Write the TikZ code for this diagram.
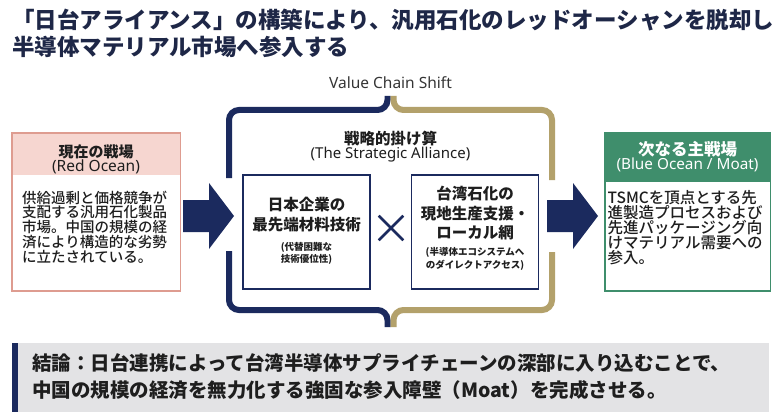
\documentclass[tikz,border=0pt]{standalone}
\usepackage{fontspec}
\setmainfont{Noto Sans CJK JP}
\newfontfamily\jpmed{Noto Sans CJK JP Medium}
\newfontfamily\latin{Noto Sans}
\usetikzlibrary{positioning,shapes.misc}
\definecolor{chainnavy}{HTML}{1B2A5E}
\definecolor{titlenavy}{HTML}{1E2747}
\definecolor{gold}{HTML}{B3A16B}
\definecolor{redfill}{HTML}{F6D6D0}
\definecolor{redline}{HTML}{DE9C90}
\definecolor{moatgreen}{HTML}{3F8E6C}
\definecolor{barfill}{HTML}{E3E3E5}
\definecolor{ink}{HTML}{1E1E1E}
\newcommand{\fsz}[2]{\fontsize{#1}{#2}\selectfont}

\begin{document}
\begin{tikzpicture}[x=1pt, y=-1pt,
  panel/.style={inner sep=0pt, anchor=north west},
  techbox/.style={draw=chainnavy, line width=1.4pt, fill=white,
    minimum width=127pt, minimum height=114pt, inner sep=0pt},
  bracket/.style={line width=6pt, rounded corners=10pt},
  bodytext/.style={anchor=north west, inner sep=0pt, align=left, text=ink},
  label/.style={inner sep=0pt, align=center, text=ink}]
\fill[white] (0,0) rectangle (780,420);
\useasboundingbox (0,0) rectangle (780,420);

\node[bodytext, text=titlenavy, font=\bfseries\fsz{22.5}{27}] (title) at (12,8.8)
  {「日台アライアンス」の構築により、汎用石化のレッドオーシャンを脱却し\\
   半導体マテリアル市場へ参入する};

% left card
\node[panel, fill=redfill, minimum width=168pt, minimum height=42pt] (redhead) at (12,133) {};
\node[panel, fill=white, minimum width=168pt, minimum height=115pt, below=0pt of redhead] (redbody) {};
\draw[redline, line width=1.5pt] (redhead.north west) rectangle (redbody.south east);
\node[label] (redtitle) at (96,159)
  {{\bfseries\fsz{15}{18}現在の戦場}\\{\latin\fsz{15.5}{18}(Red Ocean)}};
\node[bodytext, font=\jpmed\fsz{14.5}{14.7}] (redtext) at (22,190.7)
  {供給過剰と価格競争が\\支配する汎用石化製品\\市場。中国の規模の経\\済により構造的な劣勢\\に立たされている。};

% right card
\node[panel, fill=moatgreen, minimum width=165pt, minimum height=49pt] (greenhead) at (605,133) {};
\node[panel, fill=white, minimum width=165pt, minimum height=108pt, below=0pt of greenhead] (greenbody) {};
\draw[moatgreen, line width=1.5pt] (greenhead.north west) rectangle (greenbody.south east);
\node[label, text=white] (greentitle) at (687.5,156.5)
  {{\bfseries\fsz{16.5}{17}次なる主戦場}\\{\latin\fsz{15.3}{17}(Blue Ocean / Moat)}};
\node[bodytext, font=\jpmed\fsz{15.5}{15}] (greentext) at (607.5,190.2)
  {TSMCを頂点とする先\\進製造プロセスおよび\\先進パッケージング向\\けマテリアル需要への\\参入。};

% value chain frame
\node[label, text=ink!90, font=\latin\fsz{15.5}{17}] (vcs) at (390.5,83) {Value Chain Shift};
\draw[bracket, chainnavy] (229,178) |- (387.5,110) -- (387.5,96);
\draw[bracket, gold] (393.5,96) -- (393.5,110) -| (552,180);
\draw[bracket, chainnavy] (229,251) |- (387.5,310) -- (387.5,327);
\draw[bracket, gold] (393.5,327) -- (393.5,310) -| (552,252);

\node[label] (alliance) at (390.5,147)
  {{\bfseries\fsz{15.5}{18}戦略的掛け算}\\{\latin\fsz{15}{18}(The Strategic Alliance)}};

\node[techbox] (jpbox) at (306.5,232) {};
\node[techbox] (twbox) at (475,232) {};
\node[label, font=\bfseries\fsz{15.5}{20}] (jptech) at (306.5,215) {日本企業の\\最先端材料技術};
\node[label, font=\bfseries\fsz{9.5}{12.5}] (jpnote) at (306.5,253.5) {(代替困難な\\技術優位性)};
\node[label, font=\bfseries\fsz{15.5}{19.5}] (twnet) at (475,213.5) {台湾石化の\\現地生産支援・\\ローカル網};
\node[label, font=\bfseries\fsz{9.5}{12.5}] (twnote) at (475,259) {(半導体エコシステムへ\\のダイレクトアクセス)};
\node[cross out, draw=chainnavy, line width=2.6pt, minimum size=22pt, inner sep=0pt] (cross) at (391,228) {};

% block arrows
\coordinate (inarrow) at (183,216);
\coordinate (outarrow) at (547,216);
\foreach \a in {inarrow,outarrow}
  \fill[chainnavy] (\a) ++(0,-16) -- ++(26,0) -- ++(0,-17) -- ++(25,33)
    -- ++(-25,33) -- ++(0,-17) -- ++(-26,0) -- cycle;

% conclusion
\node[panel, fill=barfill, minimum width=757pt, minimum height=69pt] (concl) at (12,343) {};
\fill[chainnavy] (concl.north west) rectangle ++(6,69);
\node[bodytext, font=\bfseries\fsz{19.5}{27}] (concltext) at (32,353.2)
  {結論：日台連携によって台湾半導体サプライチェーンの深部に入り込むことで、\\
   中国の規模の経済を無力化する強固な参入障壁（Moat）を完成させる。};
\end{tikzpicture}
\end{document}
